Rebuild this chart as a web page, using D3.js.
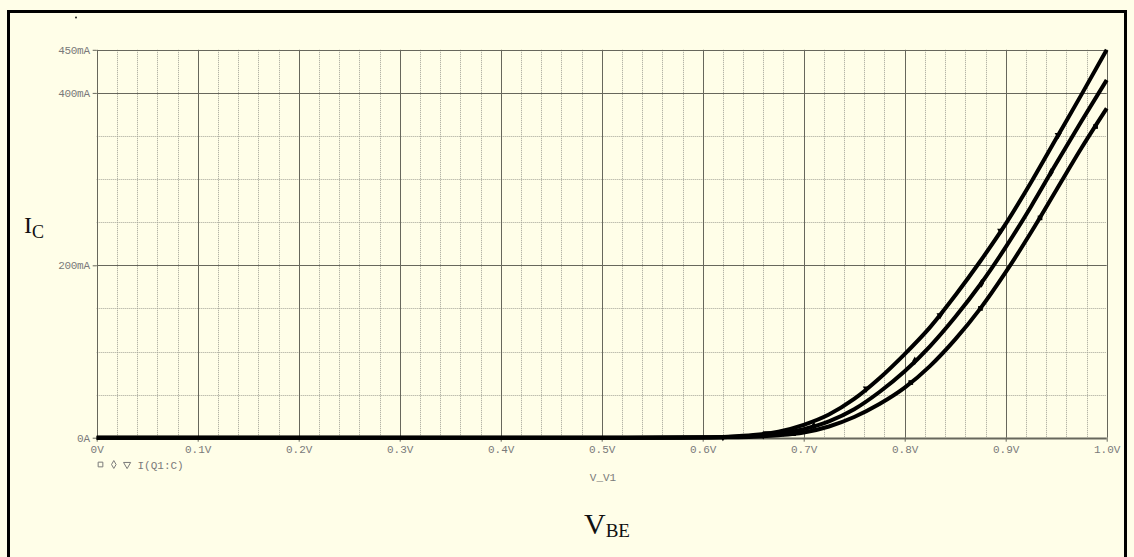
<!DOCTYPE html>
<html>
<head>
<meta charset="utf-8">
<script src="https://cdn.jsdelivr.net/npm/d3@7"></script>
<style>
  html, body { margin: 0; padding: 0; background: #fffee8; }
  svg { display: block; }
</style>
</head>
<body>
<svg id="chart" width="1134" height="557"></svg>
<script>
// Collector current sweep, three traces of I(Q1:C) against V_V1
const vbe = [0, 0.1, 0.2, 0.3, 0.4, 0.5, 0.55, 0.6, 0.625, 0.65, 0.675, 0.7, 0.725, 0.75,
             0.775, 0.8, 0.825, 0.85, 0.875, 0.9, 0.925, 0.95, 0.975, 1.0];
// collector current in mA
const icTop = [0, 0, 0, 0, 0, 0.05, 0.1, 0.5, 1.2, 3, 7, 15, 27, 45, 69, 97, 128, 165, 205, 248, 296, 347, 398, 450];
const icMid = [0, 0, 0, 0, 0, 0, 0.05, 0.3, 0.8, 2, 4.5, 10, 19, 33, 53, 77, 106, 140, 178, 221, 268, 318, 367, 415];
const icBot = [0, 0, 0, 0, 0, 0, 0, 0.15, 0.5, 1.2, 2.8, 6, 13, 24, 39, 58, 83, 114, 150, 192, 238, 287, 336, 382];

// trace symbols sitting on each curve: [V, mA]
const marksTop = [[0.62, 0.6], [0.664, 5], [0.762, 57], [0.835, 142], [0.895, 240], [0.952, 351]];
const marksMid = [[0.66, 3], [0.71, 13.6], [0.81, 89], [0.876, 179], [0.945, 308]];
const marksBot = [[0.69, 4.7], [0.806, 64], [0.875, 150], [0.934, 255], [0.989, 361]];

const xTickValues = [0, 0.1, 0.2, 0.3, 0.4, 0.5, 0.6, 0.7, 0.8, 0.9, 1.0];
const xTickLabels = ["0V", "0.1V", "0.2V", "0.3V", "0.4V", "0.5V", "0.6V", "0.7V", "0.8V", "0.9V", "1.0V"];
const yTickValues = [0, 200, 400, 450];
const yTickLabels = ["0A", "200mA", "400mA", "450mA"];
const xMinor = [0.02, 0.04, 0.06, 0.08];          // repeated inside every 0.1V step
const yMinor = [50, 100, 150, 250, 300, 350];

const svg = d3.select("#chart");
const W = 1134, H = 557;

svg.append("rect").attr("width", W).attr("height", H).attr("fill", "#fffee8");

const x = d3.scaleLinear().domain([0, 1]).range([96.7, 1106.7]);
const y = d3.scaleLinear().domain([0, 450]).range([437.7, 49.8]);

const gridMajor = "#67675c";
const gridMinor = "#a3a397";
const labelColor = "#7a7a7a";
const mono = "'Liberation Mono', 'DejaVu Sans Mono', monospace";

// minor grid (dotted)
const minorX = [];
xTickValues.slice(0, -1).forEach(v => xMinor.forEach(m => minorX.push(v + m)));
svg.append("g").selectAll("line").data(minorX).join("line")
  .attr("x1", d => Math.round(x(d)) + 0.5).attr("x2", d => Math.round(x(d)) + 0.5)
  .attr("y1", y(450)).attr("y2", y(0))
  .attr("stroke", gridMinor).attr("stroke-width", 1).attr("stroke-dasharray", "1,1");
svg.append("g").selectAll("line").data(yMinor).join("line")
  .attr("x1", x(0)).attr("x2", x(1))
  .attr("y1", d => Math.round(y(d)) + 0.5).attr("y2", d => Math.round(y(d)) + 0.5)
  .attr("stroke", gridMinor).attr("stroke-width", 1).attr("stroke-dasharray", "1,1");

// major grid (solid)
svg.append("g").selectAll("line").data(xTickValues).join("line")
  .attr("x1", d => Math.round(x(d)) + 0.5).attr("x2", d => Math.round(x(d)) + 0.5)
  .attr("y1", y(450)).attr("y2", y(0))
  .attr("stroke", gridMajor).attr("stroke-width", 1);
svg.append("g").selectAll("line").data(yTickValues).join("line")
  .attr("x1", x(0)).attr("x2", x(1))
  .attr("y1", d => Math.round(y(d)) + 0.5).attr("y2", d => Math.round(y(d)) + 0.5)
  .attr("stroke", gridMajor).attr("stroke-width", d => d === 0 ? 2 : 1);

// axes
const xAxis = d3.axisBottom(x).tickValues(xTickValues)
  .tickFormat((d, i) => xTickLabels[i]).tickSize(4).tickPadding(4);
const gx = svg.append("g").attr("transform", `translate(0,${y(0)})`).call(xAxis);
gx.select(".domain").remove();
gx.selectAll(".tick line").attr("stroke", gridMajor);
gx.selectAll(".tick text").attr("fill", labelColor).attr("font-family", mono).attr("font-size", 11);

const yAxis = d3.axisLeft(y).tickValues(yTickValues)
  .tickFormat((d, i) => yTickLabels[i]).tickSize(4).tickPadding(3);
const gy = svg.append("g").attr("transform", `translate(${x(0)},0)`).call(yAxis);
gy.select(".domain").remove();
gy.selectAll(".tick line").attr("stroke", gridMajor);
gy.selectAll(".tick text").attr("fill", labelColor).attr("font-family", mono).attr("font-size", 11)
  .attr("letter-spacing", "-0.3");

// curves
const line = d3.line().x(d => x(d[0])).y(d => y(d[1])).curve(d3.curveMonotoneX);
const traces = [
  { values: icTop, marks: marksTop, symbol: d3.symbolTriangle },
  { values: icMid, marks: marksMid, symbol: d3.symbolDiamond },
  { values: icBot, marks: marksBot, symbol: d3.symbolSquare }
];
traces.forEach(t => {
  const pts = vbe.map((v, i) => [v, t.values[i]]);
  svg.append("path").datum(pts).attr("d", line)
    .attr("fill", "none").attr("stroke", "#000").attr("stroke-width", 4)
    .attr("stroke-linejoin", "round");
});
traces.forEach(t => {
  svg.append("g").selectAll("path").data(t.marks).join("path")
    .attr("d", d3.symbol().type(t.symbol).size(22))
    .attr("transform", d => `translate(${x(d[0])},${y(d[1])})` + (t.symbol === d3.symbolTriangle ? " rotate(180)" : ""))
    .attr("fill", "#000");
});

// legend for the traces
const legendSymbols = [d3.symbolSquare, d3.symbolDiamond, d3.symbolTriangle];
svg.append("g").selectAll("path").data(legendSymbols).join("path")
  .attr("d", d => d3.symbol().type(d).size(d === d3.symbolDiamond ? 18 : 22)())
  .attr("transform", (d, i) => `translate(${100.5 + i * 13.3},464.5)` + (d === d3.symbolTriangle ? " rotate(180)" : ""))
  .attr("fill", "none").attr("stroke", labelColor).attr("stroke-width", 1);
svg.append("text").attr("x", 137.5).attr("y", 468.5)
  .attr("font-family", mono).attr("font-size", 11).attr("fill", labelColor)
  .text("I(Q1:C)");

// sweep variable name
svg.append("text").attr("x", 603).attr("y", 481).attr("text-anchor", "middle")
  .attr("font-family", mono).attr("font-size", 11).attr("fill", labelColor)
  .text("V_V1");

// axis titles
const serif = "'Liberation Serif', 'DejaVu Serif', serif";
const ic = svg.append("text").attr("x", 24).attr("y", 232.5)
  .attr("font-family", serif).attr("font-size", 24).attr("fill", "#111");
ic.append("tspan").text("I");
ic.append("tspan").attr("font-size", 18).attr("dy", 5.5).text("C");

const vb = svg.append("text").attr("x", 584).attr("y", 533.5)
  .attr("font-family", serif).attr("font-size", 30).attr("fill", "#111");
vb.append("tspan").text("V");
vb.append("tspan").attr("font-size", 19).attr("dy", 3.5).text("BE");

// stray dot in the upper left
svg.append("circle").attr("cx", 76).attr("cy", 17.5).attr("r", 1).attr("fill", "#222");

// outer frame
svg.append("rect").attr("x", 8.5).attr("y", 11.5).attr("width", 1117).attr("height", 560)
  .attr("fill", "none").attr("stroke", "#000").attr("stroke-width", 3);
</script>
</body>
</html>
